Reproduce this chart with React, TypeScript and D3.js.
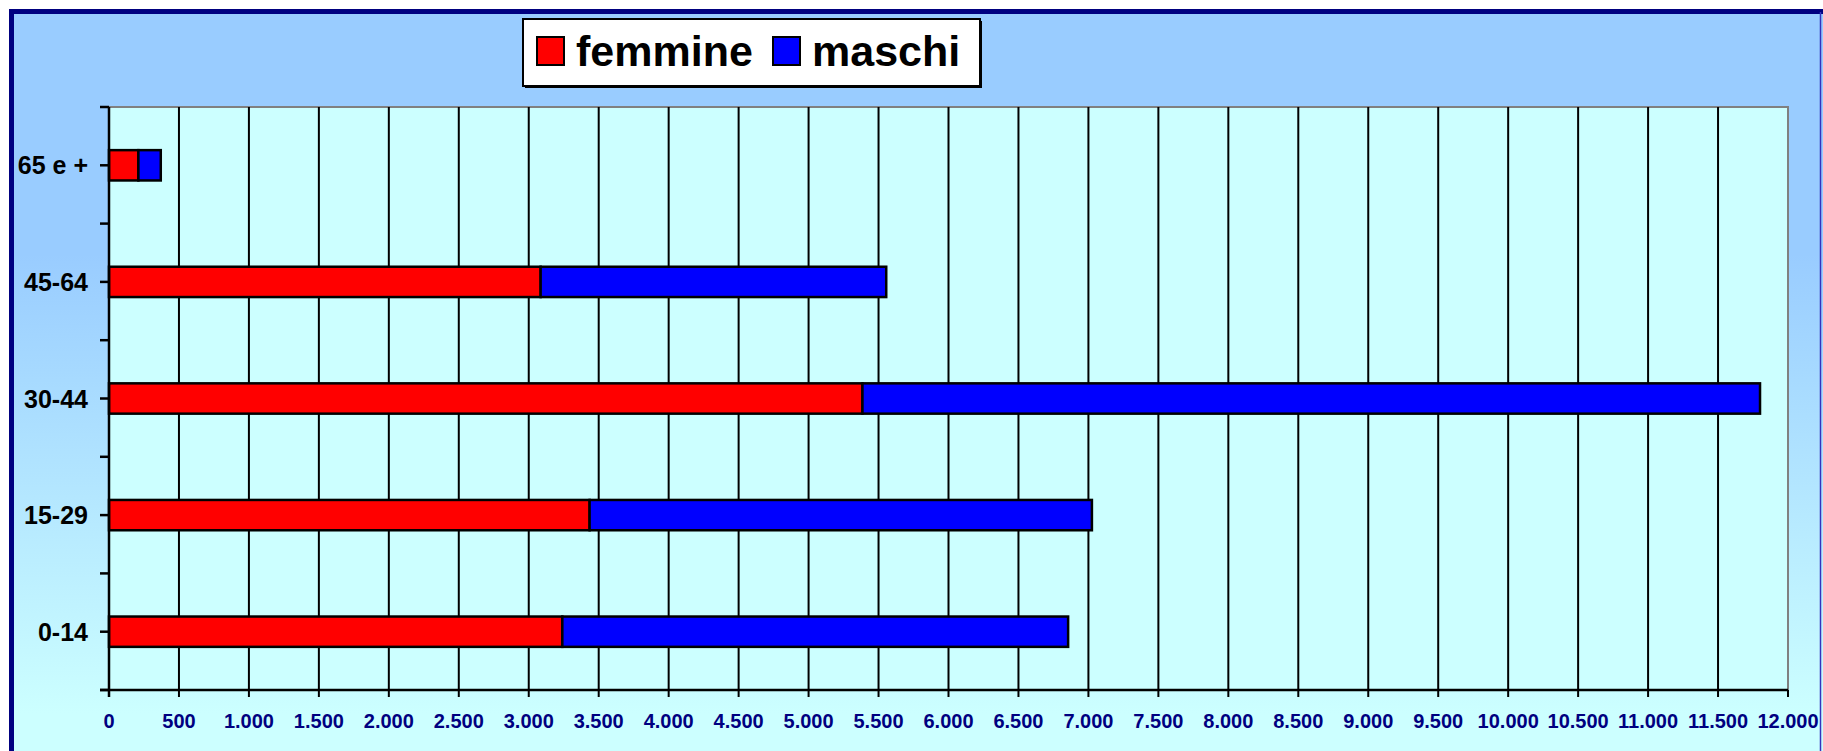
import React from 'react';
import * as d3 from 'd3';

// age groups, top to bottom as drawn
const ageGroups = ['65 e +', '45-64', '30-44', '15-29', '0-14'];
const femmine = [210, 3085, 5385, 3435, 3240];
const maschi = [160, 2470, 6415, 3590, 3615];
const seriesNames = ['femmine', 'maschi'];
const xTicks = d3.range(0, 12001, 500);

const colors = ['#FF0000', '#0000FF'];

const itFormat = d3.formatLocale({
  decimal: ',',
  thousands: '.',
  grouping: [3],
  currency: ['', '']
}).format(',');

export default function App() {
  const width = 1823, height = 751;
  const plot = {left: 109, right: 1788, top: 107, bottom: 690};

  const x = d3.scaleLinear().domain([0, 12000]).range([plot.left, plot.right]);
  const y = d3.scaleBand<string>()
    .domain(ageGroups)
    .range([plot.top, plot.bottom])
    .paddingInner(0.74)
    .paddingOuter(0.37);
  const step = y.step();

  // stacked series
  const rows = ageGroups.map((g, i) => ({group: g, femmine: femmine[i], maschi: maschi[i]}));
  const stacked = d3.stack<any>().keys(seriesNames)(rows);

  // tick positions on the category axis: centres and band boundaries
  const yTickPos: number[] = [];
  for (let i = 0; i <= ageGroups.length; i++) yTickPos.push(plot.top + i * step);
  ageGroups.forEach(g => yTickPos.push((y(g) as number) + y.bandwidth() / 2));

  const legendX = [537, 773];

  return (
    <svg width={width} height={height} style={{position: 'absolute', left: 0, top: 0}}
      fontFamily="'Liberation Sans', Arial, sans-serif">
      <defs>
        <linearGradient id="bg" x1="0" y1="0" x2="0" y2="1">
          <stop offset="0" stopColor="#99CCFF" />
          <stop offset="0.33" stopColor="#99CCFF" />
          <stop offset="0.95" stopColor="#CCFFFF" />
          <stop offset="1" stopColor="#CCFFFF" />
        </linearGradient>
      </defs>
      <rect x={0} y={0} width={width} height={height} fill="#ffffff" />
      <rect x={9} y={9} width={width - 9} height={height - 9} fill="url(#bg)" />
      <rect x={9} y={9} width={width - 9} height={5} fill="#000080" />
      <rect x={9} y={9} width={5} height={height - 9} fill="#000080" />
      <line x1={1820.5} x2={1820.5} y1={12} y2={height} stroke="#3333BB" strokeWidth={1.5} />

      {/* plot area */}
      <rect x={plot.left} y={plot.top} width={plot.right - plot.left} height={plot.bottom - plot.top}
        fill="#CCFFFF" stroke="#808080" strokeWidth={2} />

      {/* gridlines */}
      {xTicks.filter(t => t > 0 && t < 12000).map(t => (
        <line key={'g' + t} x1={x(t)} x2={x(t)} y1={plot.top} y2={plot.bottom} stroke="#000" strokeWidth={2} />
      ))}

      {/* bars */}
      {stacked.map((s, si) => s.map((d, i) => (
        <rect key={si + '-' + i}
          x={x(d[0])}
          y={y(ageGroups[i]) as number}
          width={x(d[1]) - x(d[0])}
          height={y.bandwidth()}
          fill={colors[si]} stroke="#000" strokeWidth={2.5} />
      )))}

      {/* axes */}
      <line x1={plot.left} x2={plot.left} y1={plot.top} y2={plot.bottom + 7} stroke="#000" strokeWidth={2.5} />
      <line x1={plot.left - 9} x2={plot.right} y1={plot.bottom} y2={plot.bottom} stroke="#000" strokeWidth={2.5} />
      {yTickPos.map((p, i) => (
        <line key={'yt' + i} x1={plot.left - 9} x2={plot.left} y1={p} y2={p} stroke="#000" strokeWidth={2.5} />
      ))}
      {xTicks.map(t => (
        <line key={'xt' + t} x1={x(t)} x2={x(t)} y1={plot.bottom} y2={plot.bottom + 7} stroke="#000" strokeWidth={2} />
      ))}
      {xTicks.map(t => (
        <text key={'xl' + t} x={x(t)} y={728} textAnchor="middle" fontSize={20} fontWeight="bold" fill="#000080">
          {itFormat(t)}
        </text>
      ))}
      {ageGroups.map(g => (
        <text key={'yl' + g} x={88} y={(y(g) as number) + y.bandwidth() / 2 + 9} textAnchor="end"
          fontSize={25} fontWeight="bold" fill="#000">{g}</text>
      ))}

      {/* legend */}
      <rect x={525} y={21} width={457} height={67} fill="#000" />
      <rect x={523} y={19} width={457} height={67} fill="#fff" stroke="#000" strokeWidth={2} />
      {seriesNames.map((n, i) => (
        <g key={'lg' + n} transform={`translate(${legendX[i]},0)`}>
          <rect x={0} y={37} width={27} height={28} fill={colors[i]} stroke="#000" strokeWidth={2} />
          <text x={39} y={66} fontSize={43} fontWeight="bold" fill="#000">{n}</text>
        </g>
      ))}
    </svg>
  );
}
